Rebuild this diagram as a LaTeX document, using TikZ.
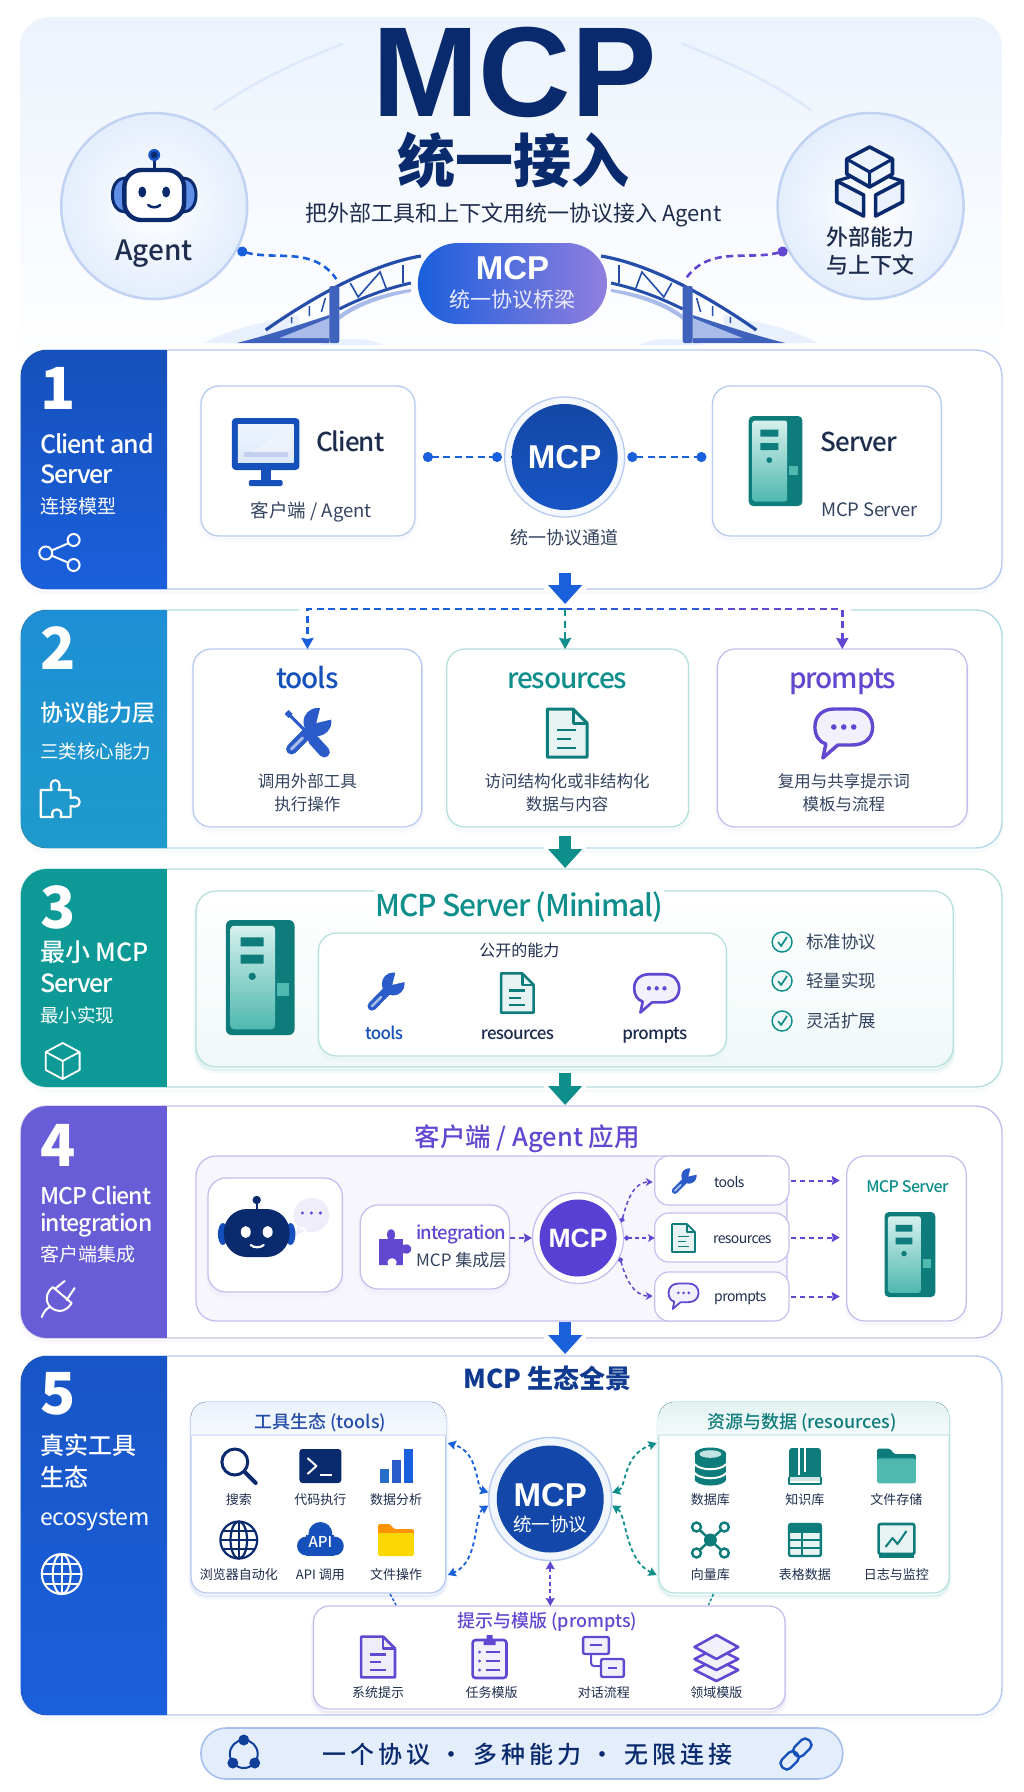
\documentclass[tikz,border=0pt]{standalone}
\usepackage{fontspec}
\setmainfont{Noto Sans CJK SC}
\newfontfamily\medf{Noto Sans CJK SC Medium}
\newfontfamily\libb{Liberation Sans Bold}
\usetikzlibrary{arrows.meta,shapes.geometric,calc}
\definecolor{navy}{HTML}{0A2A6E}
\definecolor{ink}{HTML}{1E2D4D}
\definecolor{bodyc}{HTML}{34435F}
\definecolor{blueA}{HTML}{1A5FDC}
\definecolor{blueB}{HTML}{2A5BC8}
\definecolor{tealA}{HTML}{0F8F8C}
\definecolor{tealB}{HTML}{0E7C7B}
\definecolor{purA}{HTML}{6247D0}
\definecolor{cyanA}{HTML}{1F9BD2}
\definecolor{lineB}{HTML}{B7CAF0}
\definecolor{lineC}{HTML}{B4DAE6}
\definecolor{lineT}{HTML}{B5E0DC}
\definecolor{lineP}{HTML}{C5BFEE}
\definecolor{paleA}{HTML}{DDE9FB}
\definecolor{deckA}{HTML}{3F63BD}
\definecolor{deckB}{HTML}{A9BBE8}
\definecolor{srvT}{HTML}{D5F0EC}
\definecolor{srvB}{HTML}{4FB8B0}
\newcommand\fs[1]{\fontsize{#1}{#1}\selectfont}
\newcommand\lat{\addfontfeature{LetterSpace=-4}}
\newcommand\tx[6]{\node[inner sep=0pt,font=\fs{#4},text height=#4*0.87pt,text depth=#4*0.13pt,#5] (#1) at (#2,#3) {#6};}
\newcommand\capt[5]{\pgfmathsetmacro\myb{#3+0.358*#4}\node[inner sep=0pt,anchor=base,font=\libb\fs{#4},text=#5] (#1) at (#2,\myb) {MCP};}
\newcommand\boxn[6]{\pgfmathsetmacro\myw{0.995*(#5-(#3))}\pgfmathsetmacro\myh{#6-(#4)}\pgfmathsetmacro\myx{(#3+#5)/2}\pgfmathsetmacro\myy{(#4+#6)/2}%
 \node[#2,minimum width=\myw pt,minimum height=\myh pt,inner sep=0pt,outer sep=0pt] (#1) at (\myx,\myy) {};}
\tikzset{
 softcard/.style={preaction={draw=#1,line width=5pt,opacity=.05,transform canvas={yshift=-4pt}},preaction={draw=#1,line width=2pt,opacity=.07,transform canvas={yshift=-3pt}}},
 softcard/.default=blueA,
 panelbox/.style={rectangle,rounded corners=26pt,fill=white,draw=#1,line width=1.4pt,softcard=#1},
 cardb/.style={rectangle,rounded corners=18pt,fill=white,draw=#1,line width=1.3pt,softcard=#1},
 dashc/.style={dashed,dash pattern=on 7pt off 4.5pt,line width=2.6pt,draw=#1},
 dotc/.style={dashc=#1,{Circle[length=10pt]}-{Circle[length=10pt]}},
 arrc/.style={dashc=#1,-{Stealth[length=11pt,width=12pt,inset=1pt]}},
 thinc/.style={dashed,dash pattern=on 5pt off 4pt,line width=2pt,draw=#1,-{Stealth[length=8pt,width=9pt,inset=1pt]}},
 bothc/.style={dashed,dash pattern=on 4pt off 3pt,line width=1.8pt,draw=#1,{Stealth[length=8pt,width=9pt,inset=1pt]}-{Stealth[length=8pt,width=9pt,inset=1pt]}},
 bigarr/.style={draw=#1,line width=12pt,-{Triangle[length=19pt,width=33pt]}},
}
% ---------- icons -------------
\newcommand\icdoc[4]{\begin{scope}[shift={(#1,#2)},scale=#3]
 \draw[#4,fill=#4!10,line width=#3*3pt,line join=round] (-20,-24)--(6,-24)--(20,-10)--(20,24)--(-20,24)--cycle;
 \draw[#4,line width=#3*3pt,line join=round] (6,-24)--(6,-10)--(20,-10);
 \draw[#4,line width=#3*2.6pt] (-10,-3)--(9,-3) (-10,6)--(4,6) (-10,15)--(9,15);
\end{scope}}
\newcommand\icchat[4]{\begin{scope}[shift={(#1,#2)},scale=#3]
 \draw[#4,fill=#4!8,line width=#3*3.4pt,line join=round] (-29,-6) .. controls (-29,-18) and (-20,-24) .. (-10,-24) -- (10,-24) .. controls (22,-24) and (29,-16) .. (29,-6) .. controls (29,6) and (20,12) .. (8,12) -- (-6,12) -- (-21,25) -- (-18,11) .. controls (-25,9) and (-29,2) .. (-29,-6) -- cycle;
 \fill[#4] (-10,-6) circle (2.8) (0,-6) circle (2.8) (10,-6) circle (2.8);
\end{scope}}
\newcommand\icwrench[3]{\begin{scope}[shift={(#1,#2)},scale=#3]
 \fill[blueB] (10,-11) circle (14);
 \fill[white] (9,-10)--(14,-30)--(30,-15)--cycle;
 \draw[blueB,line width=#3*11pt,line cap=round] (5,-5)--(-16,16);
 \draw[deckB,line width=#3*3pt,line cap=round] (-16,16)--(-5,5);
\end{scope}}
\newcommand\ictools[3]{\begin{scope}[shift={(#1,#2)},scale=#3]
 \draw[blueB,line width=#3*3pt,line cap=round] (-20,-20)--(2,2);
 \fill[blueB] (-23,-19)--(-19,-23)--(-15,-19)--(-19,-15)--cycle;
 \draw[blueB,line width=#3*11pt,line cap=round] (6,7)--(17,19);
 \icwrench{0}{0}{1}
\end{scope}}
\newcommand\icserver[3]{\begin{scope}[shift={(#1,#2)},scale=#3]
 \fill[tealB,rounded corners=#3*5pt] (-30,-50) rectangle (30,50);
 \path[top color=srvT,bottom color=srvB,rounded corners=#3*3pt] (-26,-45) rectangle (13,45);
 \fill[tealB] (-17,-35) rectangle (3,-27) (-17,-20) rectangle (3,-12);
 \fill[tealB] (-7,-1) circle (3.2);
 \fill[srvB] (15,5) rectangle (25,16);
\end{scope}}
\newcommand\icglobe[5]{\begin{scope}[shift={(#1,#2)}]
 \draw[#4,line width=#5 pt] (0,0) circle (#3);
 \draw[#4,line width=#5 pt] (0,0) ellipse ({#3*.45} and #3);
 \draw[#4,line width=#5 pt] (0,-#3)--(0,#3) (-#3,0)--(#3,0);
 \draw[#4,line width=#5 pt] ({-.88*#3},{-.48*#3})--({.88*#3},{-.48*#3}) ({-.88*#3},{.48*#3})--({.88*#3},{.48*#3});
\end{scope}}
\newcommand\icpuzzle[5]{\begin{scope}[shift={(#1,#2)},scale=#3]
 \draw[#4,line width=2.2pt,line join=round] (-17,-7)--(-6,-7) .. controls (-11,-20) and (6,-20) .. (1,-7)--(13,-7)--(13,1) .. controls (25,-3) and (25,13) .. (13,9)--(13,20)--(3,20) .. controls (7,10) and (-9,10) .. (-5,20)--(-17,20)--cycle;
\end{scope}}
\newcommand\icfolder[5]{\begin{scope}[shift={(#1,#2)},scale=#3]
 \fill[#4,rounded corners=1.5pt] (-18,-16)--(-6,-16)--(-2,-11)--(18,-11)--(18,2)--(-18,2)--cycle;
 \fill[#5,rounded corners=1.5pt] (-18,-7)--(18,-7)--(18,16)--(-18,16)--cycle;
\end{scope}}
\newcommand\iccheck[2]{\draw[tealA,line width=1.5pt,fill=tealA!6] (#1,#2) circle (10);
 \draw[tealA,line width=1.7pt,line join=round] (#1-4,#2) -- (#1-1,#2+4) -- (#1+5,#2-5);}
\begin{document}
\begin{tikzpicture}[x=0.995pt,y=-1pt]
\useasboundingbox (0,0) rectangle (1029.15,1792);
\fill[white] (0,0) rectangle (1029.15,1792);
% ===== header
\boxn{hdr}{rectangle,rounded corners=30pt,top color=paleA!55!white,bottom color=white}{20}{17}{1007}{372}
\draw[paleA,line width=2.5pt,line cap=round] (344,44) .. controls (290,65) and (250,85) .. (215,110);
\draw[paleA,line width=2.5pt,line cap=round] (686,44) .. controls (740,65) and (780,85) .. (815,110);
\capt{title}{517}{71}{128}{navy}
\tx{title2}{516}{161}{58}{text=navy}{\bfseries 统一接入}
\tx{subtitle}{516}{213}{22}{text=ink}{把外部工具和上下文用统一协议接入 Agent}
\node[circle,minimum size=186pt,inner sep=0pt,inner color=white,outer color=paleA!80!white,draw=lineB!85,line width=2.5pt] (agent) at (155,206) {};
\node[circle,minimum size=186pt,inner sep=0pt,inner color=white,outer color=paleA!80!white,draw=lineB!85,line width=2.5pt] (ext) at (875,206) {};
% robot
\draw[navy,line width=2.6pt] (155,170)--(155,160);
\fill[blueA!80!navy] (155,155) circle (6);
\fill[navy] (155,155) circle (3.4);
\draw[navy,line width=3pt,fill=blueA!70] (113,195) .. controls (113,184) and (119,178) .. (126,178) -- (126,212) .. controls (119,212) and (113,206) .. (113,195) -- cycle;
\draw[navy,line width=3pt,fill=blueA!70] (197,195) .. controls (197,184) and (191,178) .. (184,178) -- (184,212) .. controls (191,212) and (197,206) .. (197,195) -- cycle;
\draw[navy,line width=4.4pt,fill=white,rounded corners=17pt] (125,170) rectangle (185,220);
\fill[navy] (143,192) ellipse (4 and 5.5) (167,192) ellipse (4 and 5.5);
\draw[navy,line width=2.6pt,line cap=round] (149,205) .. controls (152,208) and (158,208) .. (161,205);
\tx{agentlab}{155}{250}{28}{text=ink}{\medf Agent}
% cubes
\begin{scope}[shift={(874,181)}]
 \draw[navy,line width=3.6pt,line join=round,fill=paleA!50!white] (0,-34)--(23,-22)--(23,-7)--(0,6)--(-23,-7)--(-23,-22)--cycle;
 \draw[navy,line width=3.2pt,line join=round] (-23,-22)--(0,-9)--(23,-22) (0,-9)--(0,6);
 \draw[navy,line width=3.6pt,line join=round,fill=paleA!60!white] (-33,0)--(-6,14)--(-6,35)--(-33,21)--cycle;
 \draw[navy,line width=3.6pt,line join=round,fill=paleA!60!white] (33,0)--(6,14)--(6,35)--(33,21)--cycle;
 \draw[navy,line width=3.2pt,line join=round] (-33,0)--(-20,-4) (33,0)--(20,-4);
\end{scope}
\tx{extA}{875}{237}{22}{text=ink}{\medf 外部能力}
\tx{extB}{875}{265}{22}{text=ink}{\medf 与上下文}
% bridge
\newcommand\bridgehalf{
 \fill[paleA!70!white] (205,343) .. controls (240,325) and (270,322) .. (300,315) -- (300,343) -- cycle;
 \fill[paleA!70!white] (320,345) .. controls (340,337) and (370,337) .. (385,345) -- cycle;
 \fill[deckA] (238,343) .. controls (270,335) and (300,325) .. (331,315) -- (331,343) -- cycle;
 \fill[deckB] (281,338) -- (331,318) -- (331,338) -- cycle;
 \fill[deckB] (341,320) .. controls (360,305) and (390,296) .. (413,292) -- (413,289) .. controls (390,292) and (360,300) .. (341,315) -- cycle;
 \draw[blueB!85!black,line width=3pt] (341,309) .. controls (365,297) and (390,288) .. (413,283);
 \draw[blueB!85!black,line width=3.2pt] (267,330) .. controls (310,300) and (370,265) .. (423,256);
 \draw[blueB!85!black,line width=1.5pt] (293,317)--(293,323) (311,306)--(311,316) (327,298)--(323,312);
 \draw[blueB!85!black,line width=1.6pt] (352,283)--(360,297)--(382,272)--(388,288) (405,265)--(405,283);
 \fill[deckA,rounded corners=2pt] (331,286) rectangle (341,343);
}
\bridgehalf
\begin{scope}[xshift=1022pt,xscale=-1]\bridgehalf\end{scope}
\boxn{pill}{rectangle,rounded corners=40pt,left color=blueA,right color=purA!70!white}{420}{243}{610}{324}
\capt{pillA}{515}{268}{33}{white}
\tx{pillB}{515}{300}{21}{text=white!92!blue}{统一协议桥梁}
\coordinate (pylonL) at (338,279);
\coordinate (pylonR) at (689,279);
\draw[dashc=blueA,{Circle[length=10pt]}-] (agent.-28) to[out=-15,in=125] (pylonL);
\draw[dashc=purA,{Circle[length=10pt]}-] (ext.-152) to[out=195,in=55] (pylonR);
% ===== panels
\newcommand\panelband[4]{\begin{scope}\clip[rounded corners=26pt] (21,#1) rectangle (300,#2);
 \fill[#3] (21,#1) rectangle (168,#2);\end{scope}}
\boxn{p1}{panelbox=lineB}{21}{350}{1007}{589}
\panelband{350}{589}{top color=blueA!85!black,bottom color=blueA}{}
\boxn{p2}{panelbox=lineC}{21}{610}{1007}{848}
\panelband{610}{848}{top color=cyanA!80!blueA,bottom color=cyanA!90!tealA}{}
\boxn{p3}{panelbox=lineT}{21}{869}{1007}{1087}
\panelband{869}{1087}{fill=tealA!90!cyan}{}
\boxn{p4}{panelbox=lineP}{21}{1106}{1007}{1338}
\panelband{1106}{1338}{fill=purA!85!blueA!90!white}{}
\boxn{p5}{panelbox=lineB}{21}{1356}{1007}{1715}
\panelband{1356}{1715}{top color=blueA!90!black,bottom color=blueA}{}
% left labels
\tx{n1}{40}{388}{58}{anchor=west,text=white}{\bfseries 1}
\tx{l1a}{40}{444}{25}{anchor=west,text=white}{\medf\lat Client and}
\tx{l1b}{40}{474}{25}{anchor=west,text=white}{\medf\lat Server}
\tx{l1c}{40}{506}{19}{anchor=west,text=white}{连接模型}
\draw[white,line width=2pt] (46,553)--(74,541) (46,553)--(74,565);
\draw[white,line width=2pt,fill=blueA] (46,553) circle (6.5) (74,540) circle (6) (74,565) circle (6);
\tx{n2}{40}{648}{58}{anchor=west,text=white}{\bfseries 2}
\tx{l2a}{40}{713}{23}{anchor=west,text=white}{\medf 协议能力层}
\tx{l2b}{40}{752}{18.5}{anchor=west,text=white}{三类核心能力}
\icpuzzle{58}{797}{1}{white}{}
\tx{n3}{40}{907}{58}{anchor=west,text=white}{\bfseries 3}
\tx{l3a}{40}{952}{25}{anchor=west,text=white}{\medf 最小 MCP}
\tx{l3b}{40}{983}{25}{anchor=west,text=white}{\medf\lat Server}
\tx{l3c}{40}{1016}{18.5}{anchor=west,text=white}{最小实现}
\begin{scope}[shift={(63,1061)}]
 \draw[white,line width=1.8pt,line join=round] (0,-18)--(17,-9)--(17,9)--(0,18)--(-17,9)--(-17,-9)--cycle (-17,-9)--(0,0)--(17,-9) (0,0)--(0,18);
\end{scope}
\tx{n4}{40}{1145}{58}{anchor=west,text=white}{\bfseries 4}
\tx{l4a}{40}{1196}{23}{anchor=west,text=white}{\medf\lat MCP Client}
\tx{l4b}{40}{1223}{23}{anchor=west,text=white}{\medf\lat integration}
\tx{l4c}{40}{1254}{19}{anchor=west,text=white}{客户端集成}
\draw[white,line width=2pt,line cap=round,line join=round] (53,1287)--(72,1303) (53,1287) .. controls (42,1296) and (47,1310) .. (60,1311) .. controls (65,1311) and (70,1307) .. (72,1303) (55,1289)--(65,1281) (67,1300)--(75,1288) (50,1307) .. controls (46,1309) and (44,1312) .. (42,1317);
\tx{n5}{40}{1393}{58}{anchor=west,text=white}{\bfseries 5}
\tx{l5a}{40}{1446}{24}{anchor=west,text=white}{\medf 真实工具}
\tx{l5b}{40}{1478}{24}{anchor=west,text=white}{\medf 生态}
\tx{l5c}{40}{1517}{23}{anchor=west,text=white}{\addfontfeature{LetterSpace=-2}ecosystem}
\icglobe{62}{1574}{20}{white}{2}
% ===== panel 1
\boxn{client}{cardb=lineB}{202}{386}{417}{536}
\boxn{server}{cardb=lineB}{716}{386}{946}{536}
\node[circle,minimum size=120pt,inner sep=0pt,fill=paleA!30!white,draw=lineB,line width=1.3pt] (mcpA) at (567.5,457) {};
\node[circle,minimum size=106pt,inner sep=0pt,top color=blueA!75!black,bottom color=blueA!90!black] (mcpAi) at (567.5,457) {};
\capt{mcpAt}{567.5}{457}{33}{white}
\tx{chan}{567}{538}{18}{text=bodyc}{统一协议通道}
% monitor
\begin{scope}[shift={(267,452)}]
 \fill[blueA!85!black,rounded corners=4pt] (-34,-34) rectangle (34,18);
 \path[top color=paleA!50!white,bottom color=paleA] (-28,-28) rectangle (28,10);
 \fill[deckB!70!white] (-22,0) rectangle (22,5);
 \fill[paleA!50!white,opacity=.8] (-15,0)--(25,-25)--(25,0)--cycle;
 \fill[blueA!85!black] (-5,18) rectangle (5,29);
 \fill[blueA!85!black,rounded corners=1.5pt] (-17,28) rectangle (17,34);
\end{scope}
\tx{clientT}{352}{442}{26}{text=ink}{\medf\lat Client}
\tx{clientS}{313}{511}{18.5}{text=bodyc}{客户端 / Agent}
\icserver{779.5}{461}{.9}
\tx{serverT}{863}{442}{26}{text=ink}{\medf\lat Server}
\tx{serverS}{874}{510}{18.5}{text=bodyc}{\addfontfeature{LetterSpace=-2}MCP Server}
\draw[dotc=blueA,shorten <=8pt,shorten >=2pt] (client.east |- mcpA.west) -- (mcpA.west);
\draw[dotc=blueA,shorten <=2pt,shorten >=6pt] (mcpA.east) -- (server.west |- mcpA.east);
% arrows between panels
\coordinate (ar1s) at (568,573); \coordinate (ar1e) at (568,604);
\draw[white,line width=6pt] (547,589)--(589,589);
\draw[bigarr=blueA] (ar1s) -- (ar1e);
% ===== panel 2
\boxn{ctools}{cardb=lineB}{194}{649}{424}{827}
\boxn{cres}{cardb=lineT}{449}{649}{692}{827}
\boxn{cprm}{cardb=lineP}{721}{649}{972}{827}
\draw[white,line width=5pt] (301,610)--(855,610);
\coordinate (busL) at (309,609); \coordinate (busM) at (568,609); \coordinate (busR) at (846.5,609);
\coordinate (busQ) at (720,609);
\draw[arrc=blueA] (busM) -| (ctools.north);
\draw[dashc=blueA!70!purA] (busM) -- (busQ);
\draw[arrc=purA] (busQ) -| (cprm.north);
\draw[arrc=tealA,line width=2pt] (busM) -- (busM |- cres.north);
\tx{tt}{309}{678}{28}{text=blueA!85!black}{\medf\lat tools}
\tx{tr}{570}{678}{28}{text=tealA}{\medf\lat resources}
\tx{tp}{847}{678}{28}{text=purA}{\medf\lat prompts}
\ictools{309}{733}{1}
\icdoc{570}{733}{1}{tealB}
\icchat{848}{733}{1}{purA}
\tx{d1a}{309}{781}{16.5}{text=bodyc}{调用外部工具}
\tx{d1b}{309}{804}{16.5}{text=bodyc}{执行操作}
\tx{d2a}{570}{781}{16.5}{text=bodyc}{访问结构化或非结构化}
\tx{d2b}{570}{804}{16.5}{text=bodyc}{数据与内容}
\tx{d3a}{848}{781}{16.5}{text=bodyc}{复用与共享提示词}
\tx{d3b}{848}{804}{16.5}{text=bodyc}{模板与流程}
\coordinate (ar2s) at (568,836); \coordinate (ar2e) at (568,868);
\draw[white,line width=6pt] (547,848)--(589,848);
\draw[bigarr=tealA] (ar2s) -- (ar2e);
% ===== panel 3
\boxn{minbox}{rectangle,rounded corners=20pt,top color=white,bottom color=tealA!6,draw=lineT,line width=1.3pt,softcard=tealA}{197}{891}{958}{1067}
\node[fill=white,inner xsep=14pt,inner sep=1pt,font=\fs{30},text=tealA,text height=26pt,text depth=4pt] (mint) at (522,905) {\medf\lat MCP Server (Minimal)};
\icserver{261.5}{977.5}{1.15}
\boxn{pub}{cardb=lineT}{320}{933}{730}{1056}
\tx{pubT}{522}{951}{16}{text=ink}{公开的能力}
\icwrench{387}{993}{.82}
\icdoc{520}{993}{.82}{tealB}
\icchat{660}{993}{.78}{purA}
\tx{ptA}{386}{1033}{17}{text=blueA!85!black}{\medf\lat tools}
\tx{ptB}{520}{1033}{17}{text=ink}{\medf\lat resources}
\tx{ptC}{658}{1033}{17}{text=ink}{\medf\lat prompts}
\iccheck{786}{942}
\iccheck{786}{981}
\iccheck{786}{1021}
\tx{ck1}{810}{942}{17.5}{anchor=west,text=bodyc}{标准协议}
\tx{ck2}{810}{981}{17.5}{anchor=west,text=bodyc}{轻量实现}
\tx{ck3}{810}{1021}{17.5}{anchor=west,text=bodyc}{灵活扩展}
\coordinate (ar3s) at (568,1073); \coordinate (ar3e) at (568,1105);
\draw[white,line width=6pt] (547,1087)--(589,1087);
\draw[bigarr=tealA] (ar3s) -- (ar3e);
% ===== panel 4
\tx{t4}{530}{1137}{25.5}{text=purA}{\medf 客户端 / Agent 应用}
\boxn{appbox}{rectangle,rounded corners=20pt,fill=purA!5,draw=lineP,line width=1.3pt}{197}{1156}{791}{1321}
\boxn{rob}{cardb=lineP}{209}{1178}{344}{1292}
\boxn{integ}{cardb=lineP}{362}{1205}{512}{1289}
\boxn{stools}{rectangle,rounded corners=14pt,fill=white,draw=lineP,line width=1.2pt}{658}{1156}{793}{1205}
\boxn{sres}{rectangle,rounded corners=14pt,fill=white,draw=lineP,line width=1.2pt}{658}{1213}{793}{1262}
\boxn{sprm}{rectangle,rounded corners=14pt,fill=white,draw=lineP,line width=1.2pt}{658}{1272}{793}{1321}
\boxn{srv4}{cardb=lineP}{851}{1156}{971}{1321}
% robot filled
\draw[navy,line width=2pt] (258,1210)--(258,1202);
\fill[navy] (258,1200) circle (4.2);
\fill[blueA!70!navy] (224,1234) ellipse (5 and 11) (292,1234) ellipse (5 and 11);
\fill[navy,rounded corners=23pt] (225,1209) rectangle (291,1257);
\fill[white] (247,1232) ellipse (5 and 6) (269,1232) ellipse (5 and 6);
\draw[white,line width=2.2pt,line cap=round] (252,1245) .. controls (255,1248) and (262,1248) .. (265,1245);
\fill[purA!10] (313,1215) ellipse (18 and 17) (299,1226)--(297,1236)--(309,1229)--cycle;
\fill[purA] (304,1213) circle (1.7) (313,1213) circle (1.7) (322,1213) circle (1.7);
% puzzle filled
\begin{scope}[shift={(395,1245)}]
 \fill[purA] (-14,-6)--(-5,-6) .. controls (-10,-19) and (6,-19) .. (1,-6)--(10,-6)--(10,0) .. controls (21,-4) and (21,12) .. (10,8)--(10,20)--(3,20) .. controls (7,11) and (-9,11) .. (-5,20)--(-14,20)--cycle;
\end{scope}
\tx{intA}{418}{1233}{18.5}{anchor=west,text=purA}{\medf\lat integration}
\tx{intB}{418}{1260}{17}{anchor=west,text=bodyc}{MCP 集成层}
\node[circle,minimum size=91pt,inner sep=0pt,fill=white,draw=lineP,line width=1.3pt] (mcpB) at (581,1238) {};
\node[circle,minimum size=77pt,inner sep=0pt,fill=purA!90!blue] (mcpBi) at (581,1238) {};
\capt{mcpBt}{581}{1238}{26.5}{white}
\draw[thinc=purA,shorten <=1pt] (integ.east |- mcpB.west) -- (mcpB.west);
\coordinate (stA) at (656,1182); \coordinate (stB) at (656,1296);
\draw[thinc=purA,line width=1.5pt,dash pattern=on 4pt off 3pt,{Circle[length=5pt]}-{Stealth[length=7pt,width=8pt]}] (mcpB.20) to[out=75,in=180] (stA);
\draw[thinc=purA,line width=1.5pt,dash pattern=on 4pt off 3pt,{Circle[length=5pt]}-{Stealth[length=7pt,width=8pt]}] (mcpB.east) -- (sres.west |- mcpB.east);
\draw[thinc=purA,line width=1.5pt,dash pattern=on 4pt off 3pt,{Circle[length=5pt]}-{Stealth[length=7pt,width=8pt]}] (mcpB.-25) to[out=-75,in=180] (stB);
\icwrench{687}{1182}{.55}
\icdoc{687}{1238}{.58}{tealB}
\icchat{687}{1296}{.52}{purA}
\tx{sA}{733}{1182}{14}{text=ink}{\lat tools}
\tx{sB}{746}{1238}{14}{text=ink}{\lat resources}
\tx{sC}{744}{1296}{14}{text=ink}{\lat prompts}
\draw[thinc=purA,shorten >=7pt,shorten <=2pt] (stools.east) -- (srv4.west |- stools.east);
\draw[thinc=purA,shorten >=7pt,shorten <=2pt] (sres.east) -- (srv4.west |- sres.east);
\draw[thinc=purA,shorten >=7pt,shorten <=2pt] (sprm.east) -- (srv4.west |- sprm.east);
\tx{srv4T}{912}{1187}{16}{text=tealA}{\medf\lat MCP Server}
\icserver{914.5}{1254.5}{.85}
\coordinate (ar4s) at (568,1322); \coordinate (ar4e) at (568,1354);
\draw[white,line width=6pt] (547,1338)--(589,1338);
\draw[bigarr=blueA] (ar4s) -- (ar4e);
% ===== panel 5
\tx{t5}{550}{1379}{26}{text=navy!70!blueA}{\bfseries MCP 生态全景}
\boxn{eco1}{rectangle,rounded corners=16pt,fill=white,draw=lineB,line width=1.3pt,softcard=blueA}{192}{1402}{448}{1593}
\boxn{eco2}{rectangle,rounded corners=16pt,fill=white,draw=lineT,line width=1.3pt,softcard=tealA}{662}{1402}{954}{1593}
\boxn{eco3}{rectangle,rounded corners=16pt,fill=white,draw=lineP,line width=1.3pt,softcard=purA}{315}{1606}{789}{1709}
\begin{scope}\clip[rounded corners=16pt] (192,1402) rectangle (448,1500);
 \fill[top color=paleA!60!white,bottom color=paleA!25!white] (192,1402) rectangle (448,1435);\end{scope}
\begin{scope}\clip[rounded corners=16pt] (662,1402) rectangle (954,1500);
 \fill[top color=tealA!12,bottom color=tealA!4] (662,1402) rectangle (954,1435);\end{scope}
\draw[paleA,line width=1.2pt] (192,1435)--(448,1435);
\draw[tealA!15,line width=1.2pt] (662,1435)--(954,1435);
\tx{e1T}{322}{1422}{18}{text=blueB!85!black}{\medf 工具生态 (tools)}
\tx{e2T}{806}{1422}{18}{text=tealB}{\medf 资源与数据 (resources)}
\tx{e3T}{550}{1621}{18}{text=purA}{\medf 提示与模版 (prompts)}
% eco1 icons
\begin{scope}[shift={(240,1466)}]
 \draw[navy,line width=3pt] (-4,-4) circle (13); \draw[navy,line width=4pt,line cap=round] (6,6)--(17,17);
\end{scope}
\begin{scope}[shift={(322,1466)}]
 \fill[navy,rounded corners=3pt] (-21,-17) rectangle (21,17);
 \draw[white,line width=2pt,line join=round] (-13,-8)--(-4,0)--(-13,8); \draw[white,line width=2pt] (0,9)--(12,9);
\end{scope}
\begin{scope}[shift={(398,1466)}]
 \fill[blueB!70!cyanA] (-16,3) rectangle (-7,17);
 \fill[blueB] (-4,-6) rectangle (5,17);
 \fill[blueA] (8,-17) rectangle (17,17);
\end{scope}
\icglobe{240}{1540}{18.5}{navy}{2.2}
\begin{scope}[shift={(322,1540)}]
 \fill[blueA!85!black] (0,-6) circle (12);
 \fill[blueA!85!black] (-14,6) circle (9.5);
 \fill[blueA!85!black] (14,6) circle (9.5);
 \fill[blueA!85!black] (-14,-5) rectangle (14,15.5);
\end{scope}
\node[inner sep=0pt,font=\fs{15},text=white] (apiT) at (322,1542) {\medf API};
\icfolder{398}{1540}{1}{orange!85!yellow}{yellow!75!orange}
\foreach \nm/\xx/\yy/\ll in {a/240/1500/搜索,b/322/1500/代码执行,c/398/1500/数据分析,d/240/1575/浏览器自动化,e/322/1575/API 调用,f/398/1575/文件操作}{
 \tx{e1\nm}{\xx}{\yy}{13}{text=ink}{\ll}}
% eco2 icons
\begin{scope}[shift={(714,1466)}]
 \fill[tealB] (0,-12) ellipse (16 and 6.5);
 \fill[tealB] (-16,-12) rectangle (16,13);
 \fill[tealB] (0,13) ellipse (16 and 6.5);
 \fill[tealA!25] (0,-12) ellipse (11 and 3.8);
 \draw[white,line width=2pt] (-16,-2) .. controls (-10,5) and (10,5) .. (16,-2) (-16,7) .. controls (-10,14) and (10,14) .. (16,7);
\end{scope}
\begin{scope}[shift={(809,1466)}]
 \fill[tealB,rounded corners=3pt] (-16,-18) rectangle (16,14);
 \draw[white,line width=1.6pt] (-6,-18)--(-6,9)  (0,-18)--(0,6);
 \fill[tealB!20] (-16,11) rectangle (16,15);
 \draw[tealB,line width=2.2pt,line join=round] (-16,11)--(-16,18)--(16,18)--(16,11);
\end{scope}
\icfolder{901}{1466}{1.08}{tealB}{srvB}
\begin{scope}[shift={(714,1540)}]
 \draw[tealB,line width=2.4pt] (-14,-13)--(14,13) (14,-13)--(-14,13);
 \draw[tealB,line width=2.4pt,fill=white] (-14,-13) circle (4.5) (14,-13) circle (4.5) (-14,13) circle (4.5) (14,13) circle (4.5);
 \fill[tealB] (0,0) circle (6.5);
\end{scope}
\begin{scope}[shift={(809,1540)}]
 \draw[tealB,line width=2.4pt,fill=tealA!10,rounded corners=2pt] (-16,-16) rectangle (16,16);
 \fill[tealB] (-16,-16) rectangle (16,-7);
 \draw[tealB,line width=1.6pt] (-16,0)--(16,0) (-16,8)--(16,8) (-3,-7)--(-3,16);
\end{scope}
\begin{scope}[shift={(901,1540)}]
 \draw[tealB,line width=2.6pt,fill=tealA!10,rounded corners=2pt] (-18,-16) rectangle (18,14);
 \draw[tealB,line width=3.4pt] (-18,16)--(18,16);
 \draw[tealB,line width=2pt,line join=round] (-11,7)--(-4,-2)--(1,4)--(10,-9);
\end{scope}
\foreach \nm/\xx/\yy/\ll in {a/714/1500/数据库,b/809/1500/知识库,c/901/1500/文件存储,d/714/1575/向量库,e/809/1575/表格数据,f/901/1575/日志与监控}{
 \tx{e2\nm}{\xx}{\yy}{13}{text=ink}{\ll}}
% eco3 icons
\icdoc{380}{1657}{.85}{purA}
\begin{scope}[shift={(492,1657)}]
 \draw[purA,line width=2.6pt,fill=purA!8,rounded corners=3pt] (-17,-17) rectangle (17,21);
 \fill[purA] (-6,-18) rectangle (6,-12) (-3,-22) rectangle (3,-16);
 \fill[purA] (-10,-5) circle (1.6) (-10,4) circle (1.6) (-10,13) circle (1.6);
 \draw[purA,line width=1.8pt] (-4,-5)--(11,-5) (-4,4)--(11,4) (-4,13)--(11,13);
\end{scope}
\begin{scope}[shift={(607,1657)}]
 \draw[purA,line width=2.4pt,fill=purA!8,rounded corners=2pt] (-21,-20) rectangle (5,-3);
 \draw[purA,line width=2.4pt,fill=purA!8,rounded corners=2pt] (-3,2) rectangle (20,20);
 \draw[purA,line width=2pt] (-14,-12)--(-2,-12) (4,11)--(13,11);
 \draw[purA,line width=2pt,rounded corners=3pt] (-13,-3)--(-13,9)--(-3,9);
\end{scope}
\begin{scope}[shift={(720,1657)}]
 \draw[purA,line width=2.6pt,line join=round,fill=purA!8] (0,2)--(22,13)--(0,24)--(-22,13)--cycle;
 \draw[purA,line width=2.6pt,line join=round,fill=purA!8] (0,-9)--(22,2)--(0,13)--(-22,2)--cycle;
 \draw[purA,line width=2.6pt,line join=round,fill=purA!8] (0,-22)--(22,-10)--(0,2)--(-22,-10)--cycle;
\end{scope}
\foreach \nm/\xx/\ll in {a/380/系统提示,b/494/任务模版,c/607/对话流程,d/720/领域模版}{
 \tx{e3\nm}{\xx}{1693}{13}{text=ink}{\ll}}
% hub
\node[circle,minimum size=123pt,inner sep=0pt,fill=paleA!40!white,draw=lineB,line width=1.5pt] (hub) at (553,1499) {};
\node[circle,minimum size=107pt,inner sep=0pt,fill=blueA!55!navy] (hubi) at (553,1499) {};
\capt{hubT}{553}{1495}{33}{white}
\tx{hubS}{553}{1525}{18.5}{text=white}{统一协议}
\coordinate (e1u) at (450,1443); \coordinate (e1d) at (450,1575);
\coordinate (e2u) at (660,1443); \coordinate (e2d) at (660,1575);
\draw[bothc=blueA] (hub.174) .. controls (478,1488) and (482,1452) .. (e1u);
\draw[bothc=blueA] (hub.186) .. controls (476,1515) and (482,1562) .. (e1d);
\draw[bothc=tealA] (hub.6) .. controls (630,1488) and (625,1455) .. (e2u);
\draw[bothc=tealA] (hub.-6) .. controls (630,1515) and (628,1560) .. (e2d);
\draw[bothc=purA] (hub.south) -- (eco3.north -| hub.south);
\coordinate (e1a) at (392,1594); \coordinate (e1b) at (398,1605);
\coordinate (e2a) at (717,1594); \coordinate (e2b) at (712,1605);
\draw[thinc=blueA,-,line width=1.5pt,dash pattern=on 3pt off 2pt] (e1a) -- (e1b);
\draw[thinc=tealA,-,line width=1.5pt,dash pattern=on 3pt off 2pt] (e2a) -- (e2b);
% ===== footer
\boxn{foot}{rectangle,rounded corners=25pt,left color=paleA!80!white,middle color=white,right color=paleA!80!white,draw=lineB!90!blueA,line width=1.6pt}{202}{1728}{847}{1779}
\node[inner sep=0pt,font=\fs{24},text=navy] (footT) at (530,1754) {\medf\addfontfeature{LetterSpace=17}一个协议 · 多种能力 · 无限连接};
\begin{scope}[shift={(245,1754)}]
 \draw[navy!60!blueA,line width=2pt] (0,0) circle (14);
 \fill[navy!60!blueA] (0,-14) circle (5.5) (-11,9) circle (5.5) (11,9) circle (5.5);
\end{scope}
\begin{scope}[shift={(800,1754)},rotate=45]
 \draw[blueA!85!black,line width=2.4pt,rounded corners=5pt] (-19,-6) rectangle (1,6);
 \draw[blueA!85!black,line width=2.4pt,rounded corners=5pt] (-1,-6) rectangle (19,6);
\end{scope}
\end{tikzpicture}
\end{document}
